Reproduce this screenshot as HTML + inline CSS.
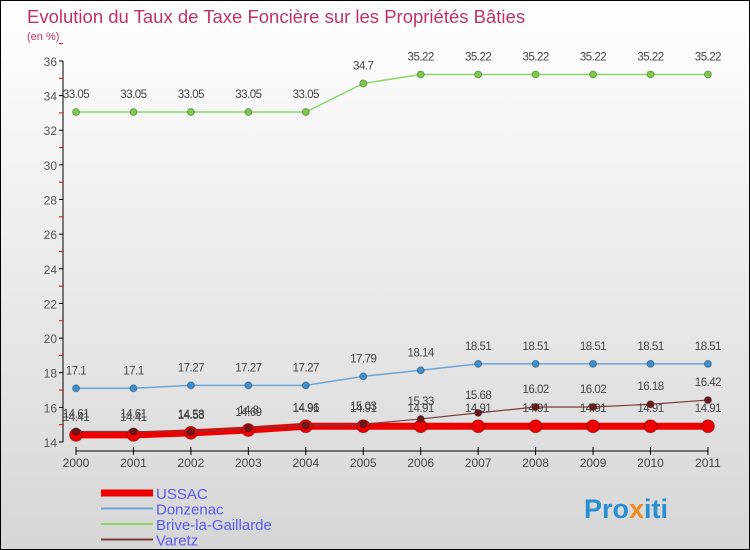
<!DOCTYPE html>
<html><head><meta charset="utf-8"><style>
body{margin:0}
#c{position:relative;width:748px;height:548px;border:1px solid #000;background:linear-gradient(#ffffff,#d6d6d6);font-family:"Liberation Sans",sans-serif;overflow:hidden}
</style></head><body>
<div id="c">
<svg id="s" width="748" height="548" xmlns="http://www.w3.org/2000/svg">
<text x="26" y="22" font-size="18.5" fill="#c0306a">Evolution du Taux de Taxe Foncière sur les Propriétés Bâties</text>
<text x="26" y="39" font-size="11" fill="#c0306a">(en %)</text>
<g id="axes"></g><g id="series"></g><g id="legend"></g>
<text x="583" y="517" font-size="27" font-weight="bold" fill="#2a8fd0">Pro<tspan fill="#f08a1c">x</tspan>iti</text>
</svg></div>
<script>
const years=[2000,2001,2002,2003,2004,2005,2006,2007,2008,2009,2010,2011];
const yTicks=[14,16,18,20,22,24,26,28,30,32,34,36];
const ussac=[14.41,14.41,14.53,14.69,14.91,14.91,14.91,14.91,14.91,14.91,14.91,14.91];
const donzenac=[17.1,17.1,17.27,17.27,17.27,17.79,18.14,18.51,18.51,18.51,18.51,18.51];
const brive=[33.05,33.05,33.05,33.05,33.05,34.7,35.22,35.22,35.22,35.22,35.22,35.22];
const varetz=[14.61,14.61,14.58,14.8,14.96,15.03,15.33,15.68,16.02,16.02,16.18,16.42];
const NS="http://www.w3.org/2000/svg";
const X=i=>75+i*57.45, Y=v=>441-(v-14)*17.32;
function mk(p,t,a){const e=document.createElementNS(NS,t);for(const k in a)e.setAttribute(k,a[k]);p.appendChild(e);return e;}
const ax=document.getElementById('axes');
let l=mk(ax,'line',{x1:62,y1:60,x2:62,y2:441,stroke:'#000'});


l=mk(ax,'line',{x1:75,y1:450,x2:707,y2:450,stroke:'#000'});


yTicks.forEach(v=>{
 mk(ax,'line',{x1:58,y1:Y(v),x2:62,y2:Y(v),stroke:'#000'});
 mk(ax,'line',{x1:58,y1:Y(v+1),x2:62,y2:Y(v+1),stroke:'#e00'});
 const t=mk(ax,'text',{x:56,y:Y(v)+5,'font-size':12,fill:'#555','text-anchor':'end'});t.textContent=v;
 
 
});
years.forEach((y,i)=>{
 mk(ax,'line',{x1:X(i),y1:446,x2:X(i),y2:454,stroke:'#000'});
 const t=mk(ax,'text',{x:X(i),y:466,'font-size':12,fill:'#444','text-anchor':'middle'});t.textContent=y;
 
 
});
const se=document.getElementById('series');
function draw(name,data,color,w,r,dot){
 const g=mk(se,'g',{});
 
 
 mk(g,'polyline',{points:data.map((v,i)=>X(i)+','+Y(v)).join(' '),fill:'none',stroke:color,'stroke-width':w});
 data.forEach((v,i)=>{
  const c=mk(g,'circle',{cx:X(i),cy:Y(v),r:r,fill:dot,stroke:'rgba(0,0,0,0.3)'});
  
  
  const t=mk(g,'text',{x:X(i),y:Y(v)-14,'font-size':11.5,fill:'#444','text-anchor':'middle','letter-spacing':'-0.5'});t.textContent=v;
  
  
 });
}
draw('brive',brive,'#8fd66a',1.5,3.5,'#7ccb46');
draw('donzenac',donzenac,'#6aa6d8',1.5,3.5,'#3c8fd0');
draw('ussac',ussac,'#ee0000',7,6.5,'#ee0000');
draw('varetz',varetz,'#7a3a3a',1.2,3.5,'#6a1a1a');
const lg=document.getElementById('legend');
[['USSAC','#ee0000',7],['Donzenac','#6aa6d8',2],['Brive-la-Gaillarde','#8fd66a',2],['Varetz','#7a3a3a',2]].forEach((e,i)=>{
 const y=492+i*15.5;
 mk(lg,'line',{x1:100,y1:y,x2:152,y2:y,stroke:e[1],'stroke-width':e[2]});
 const t=mk(lg,'text',{x:155,y:y+6,'font-size':15,fill:'#5a5af0'});t.textContent=e[0];
 
 
});
</script>
</body></html>
